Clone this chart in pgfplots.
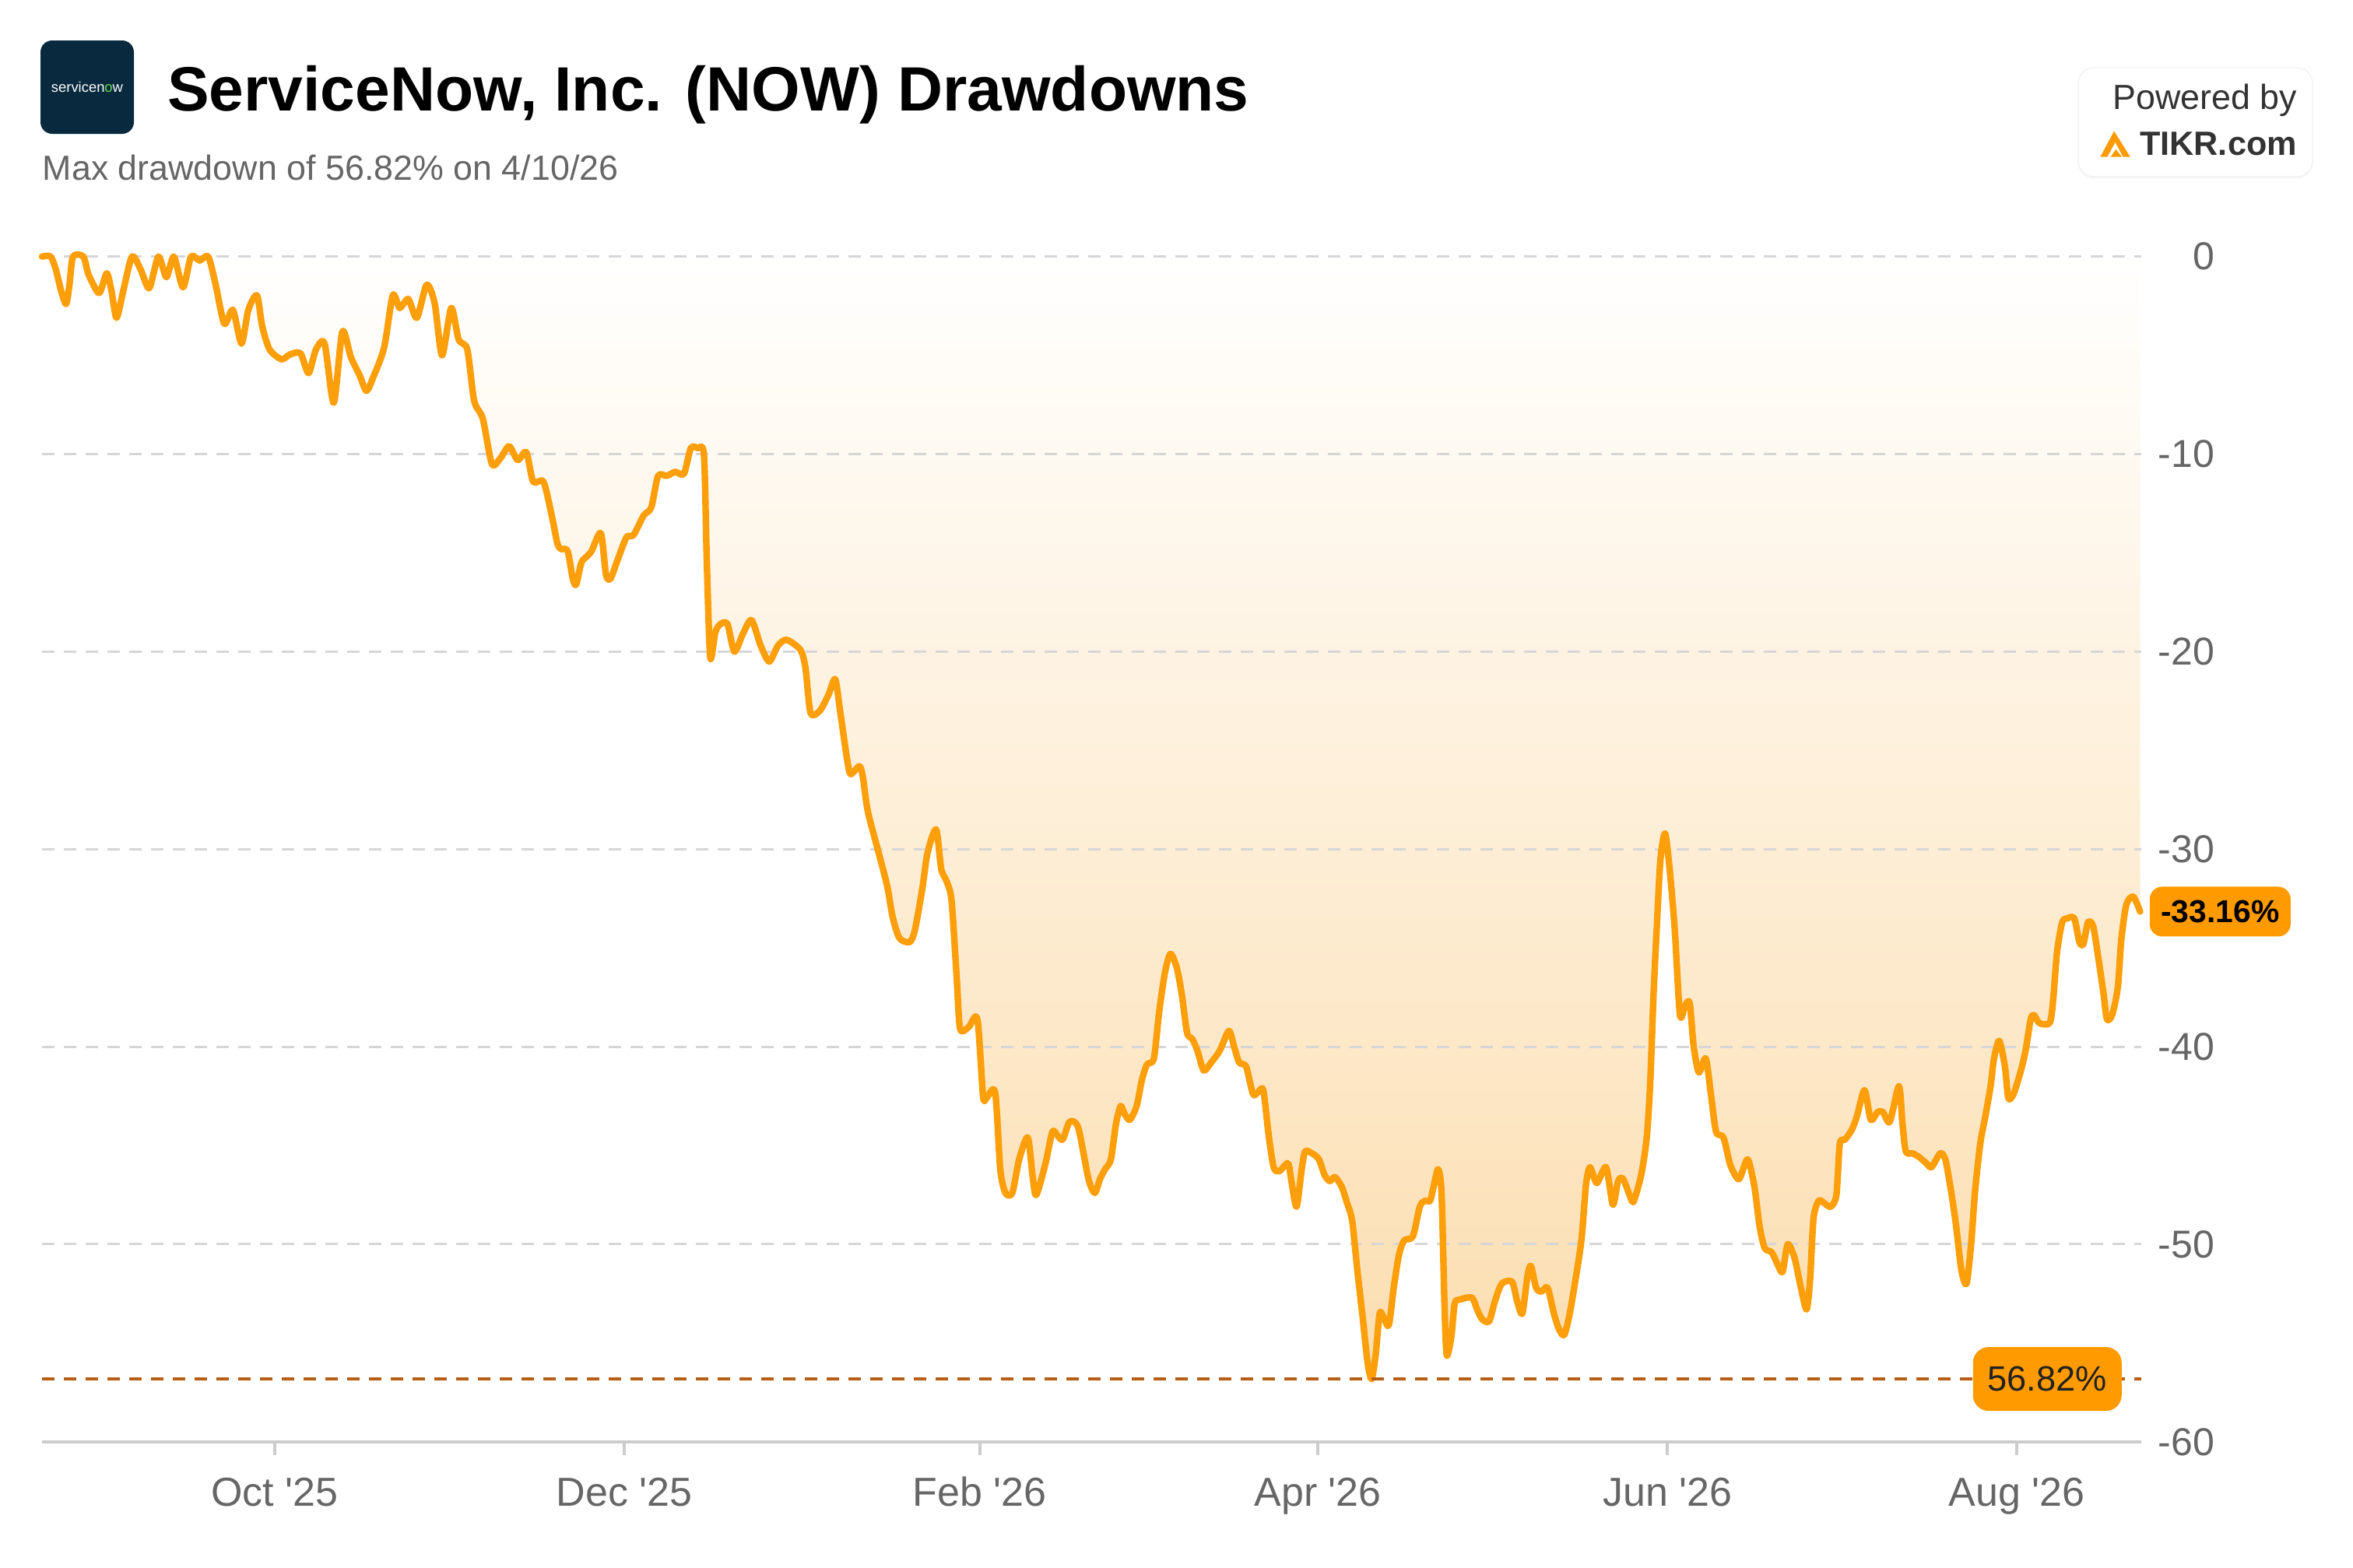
\documentclass[border=0pt]{standalone}
\usepackage{pgfplots}
\pgfplotsset{compat=1.18}
\usepackage{pgfplotstable}
\usepackage{fontspec}
\setmainfont{Liberation Sans}
\usetikzlibrary{shadows}
\definecolor{lineorange}{RGB}{253,158,11}
\definecolor{boxorange}{RGB}{255,155,0}
\definecolor{fillorange}{RGB}{252,222,176}
\definecolor{gridgray}{RGB}{214,214,214}
\definecolor{axisgray}{RGB}{204,204,204}
\definecolor{labelgray}{RGB}{102,102,102}
\definecolor{maxbrown}{RGB}{184,94,20}
\definecolor{navy}{RGB}{9,42,62}
\definecolor{snowgreen}{RGB}{98,216,78}
\definecolor{darktext}{RGB}{34,34,34}
\definecolor{tikrtext}{RGB}{51,51,51}

% x: days since 1 Oct 2025, y: drawdown in %
\pgfplotstableread{
x y
-40.6 0
-39.1 0
-38.2 -0.65
-37.3 -1.7
-36.4 -2.4
-35.8 -1.4
-35.2 0
-33.4 0
-32.5 -0.9
-31.0 -1.76
-30.4 -1.76
-29.3 -0.85
-28.5 -1.7
-27.6 -3.1
-26.4 -1.7
-24.9 0
-23.4 -0.65
-21.9 -1.6
-20.3 0
-18.9 -1.04
-17.6 0
-16.0 -1.56
-14.6 0
-13.1 -0.2
-11.6 0
-10.3 -1.43
-8.8 -3.4
-7.3 -2.7
-5.8 -4.4
-4.6 -2.7
-3.1 -1.96
-2.2 -3.5
-0.9 -4.7
1.2 -5.2
2.7 -4.95
4.5 -4.9
5.9 -5.9
7.2 -4.7
8.7 -4.4
10.3 -7.4
11.8 -3.8
13.3 -5.1
14.8 -6.0
16.0 -6.8
17.2 -6.1
19.1 -4.6
20.6 -1.96
21.8 -2.6
23.3 -2.15
24.8 -3.1
26.5 -1.43
27.9 -2.35
29.2 -5.0
30.8 -2.6
32.1 -4.2
33.6 -4.7
34.8 -7.3
36.3 -8.2
37.9 -10.5
39.4 -10.2
40.9 -9.6
42.4 -10.3
43.9 -9.9
45.1 -11.4
46.9 -11.4
48.4 -13.2
49.3 -14.5
49.9 -14.8
51.1 -14.9
52.0 -16.3
52.6 -16.6
53.5 -15.5
54.4 -15.2
55.3 -14.9
56.9 -14.0
57.8 -16.1
58.6 -16.3
59.9 -15.3
61.4 -14.2
62.6 -14.1
64.4 -13.1
65.7 -12.7
66.9 -11.1
68.4 -11.1
69.9 -10.9
71.4 -11.0
72.6 -9.7
73.8 -9.7
74.9 -10.05
75.4 -15.5
76.0 -20.3
76.9 -19.0
77.8 -18.6
79.0 -18.6
80.2 -20.0
81.7 -19.1
83.2 -18.4
84.8 -19.7
86.3 -20.5
87.8 -19.7
89.3 -19.4
91.7 -19.9
92.6 -20.8
93.5 -23.1
95.1 -23.0
96.6 -22.2
97.8 -21.4
98.7 -23.1
99.9 -25.5
100.5 -26.2
102.0 -25.8
102.6 -26.3
103.5 -28.1
105.4 -30.2
106.9 -31.9
107.8 -33.4
109.0 -34.5
110.8 -34.7
111.7 -34.1
113.0 -32.0
113.9 -30.2
115.4 -29.0
116.3 -31.0
117.2 -31.6
118.1 -32.6
119.0 -36.5
119.6 -39.1
121.1 -39.0
122.6 -38.6
123.6 -42.5
124.2 -42.6
125.7 -42.3
126.6 -46.2
127.5 -47.4
128.7 -47.4
129.9 -45.7
131.4 -44.6
132.3 -46.7
132.9 -47.5
134.5 -45.9
135.7 -44.3
136.6 -44.5
137.5 -44.7
138.7 -43.8
140.2 -44.1
142.0 -46.7
143.1 -47.4
144.0 -46.7
144.9 -46.2
145.9 -45.7
146.8 -43.9
147.6 -43.0
148.3 -43.4
149.2 -43.7
150.4 -43.0
151.3 -41.7
152.2 -40.9
153.4 -40.6
154.3 -38.3
155.3 -36.3
156.3 -35.3
157.4 -36.0
158.3 -37.4
159.2 -39.3
160.1 -39.6
161.0 -40.2
162.1 -41.2
163.4 -40.8
164.9 -40.2
166.5 -39.2
167.4 -40.0
168.3 -40.8
169.5 -41.0
170.7 -42.4
171.6 -42.3
172.5 -42.2
173.4 -44.4
174.3 -46.1
175.3 -46.3
176.8 -45.9
177.4 -46.8
178.3 -48.1
179.2 -46.2
179.8 -45.3
181.0 -45.4
182.2 -45.7
183.2 -46.5
184.1 -46.8
185.0 -46.6
186.2 -47.1
187.1 -47.9
188.0 -48.8
188.9 -51.3
189.8 -53.6
190.7 -56.0
191.4 -56.82
192.1 -55.6
192.8 -53.5
193.5 -53.7
194.4 -54.1
195.3 -52.1
196.2 -50.5
197.1 -49.8
198.6 -49.6
199.8 -48.1
200.7 -47.8
201.6 -47.8
202.2 -47.1
203.0 -46.2
203.6 -47.4
204.1 -52.9
204.5 -55.6
205.3 -54.7
205.9 -53.0
206.8 -52.8
208.9 -52.7
209.8 -53.3
210.7 -53.8
211.9 -53.9
212.9 -52.9
214.1 -52.0
215.9 -51.9
216.8 -52.9
217.7 -53.5
218.6 -51.6
219.2 -51.1
220.1 -52.2
221.0 -52.4
222.1 -52.2
223.2 -53.5
224.1 -54.3
225.0 -54.6
225.9 -53.6
226.8 -52.1
228.0 -49.8
228.8 -47.0
229.5 -46.1
230.7 -46.9
232.3 -46.1
233.5 -48.0
234.4 -46.8
235.3 -46.7
236.8 -47.8
237.3 -47.7
238.5 -46.4
239.4 -44.6
240.0 -41.9
240.6 -37.3
241.2 -33.7
241.8 -30.5
242.6 -29.2
243.4 -31.0
244.3 -34.1
245.2 -38.4
246.1 -37.9
246.9 -37.8
247.6 -40.0
248.5 -41.3
249.7 -40.6
250.6 -42.4
251.5 -44.3
252.8 -44.6
254.0 -46.0
255.5 -46.7
257.0 -45.7
258.2 -47.1
259.1 -49.1
260.0 -50.2
261.2 -50.4
262.2 -51.0
263.1 -51.4
264.0 -50.0
265.2 -50.7
266.3 -52.2
267.3 -53.3
267.9 -51.8
268.5 -48.7
269.4 -47.8
270.3 -47.9
271.5 -48.1
272.5 -47.5
273.1 -44.9
274.0 -44.7
275.2 -44.2
276.1 -43.5
277.4 -42.2
278.5 -43.7
279.7 -43.3
280.6 -43.3
281.8 -43.8
283.4 -42.0
284.0 -43.8
284.6 -45.3
285.8 -45.4
287.0 -45.6
288.2 -45.9
289.1 -46.1
290.6 -45.4
291.5 -45.7
292.5 -47.3
293.4 -49.1
294.3 -51.3
295.2 -52.0
296.0 -50.0
296.7 -47.3
297.6 -44.9
298.5 -43.5
299.4 -42.0
300.0 -40.6
300.9 -39.7
301.9 -41.0
302.5 -42.6
303.4 -42.4
304.6 -41.3
305.5 -40.2
306.4 -38.6
307.0 -38.4
307.9 -38.8
309.7 -38.8
310.3 -37.7
311.0 -35.2
311.9 -33.7
312.8 -33.5
314.0 -33.5
314.9 -34.7
315.6 -34.8
316.4 -33.7
317.3 -33.9
318.2 -35.5
319.1 -37.3
319.7 -38.6
320.6 -38.4
321.6 -37.0
322.2 -34.6
323.1 -32.8
324.3 -32.4
325.5 -33.16
}\dd

\begin{document}
\begin{tikzpicture}
\path (0,0) rectangle (755.75pt,-503.75pt);

% logo
\fill[navy, rounded corners=3.75pt] (13pt,-13pt) rectangle (43pt,-43pt);
\node[inner sep=0pt, font=\fontsize{4.6}{5}\selectfont, text=white] at (28pt,-28pt) {servicen\textcolor{snowgreen}{o}w};

% title and subtitle
\node[anchor=base west, inner sep=0pt, font=\bfseries\fontsize{20.1}{24}\selectfont] at (53.6pt,-35.6pt) {ServiceNow, Inc. (NOW) Drawdowns};
\node[anchor=base west, inner sep=0pt, font=\fontsize{11.2}{13}\selectfont, text=labelgray] at (13.5pt,-57.8pt) {Max drawdown of 56.82\% on 4/10/26};

% powered by box
\fill[white, rounded corners=5pt, drop shadow={shadow xshift=0pt, shadow yshift=-0.6pt, opacity=0.07}] (667.5pt,-21.75pt) rectangle (742.75pt,-56.75pt);
\draw[gray!12, line width=0.3pt, rounded corners=5pt] (667.5pt,-21.75pt) rectangle (742.75pt,-56.75pt);
\node[anchor=base east, inner sep=0pt, font=\fontsize{11.2}{13}\selectfont, text=tikrtext] at (737.9pt,-35pt) {Powered by};
\node[anchor=base east, inner sep=0pt, font=\bfseries\fontsize{10.8}{13}\selectfont, text=tikrtext] at (737.9pt,-49.8pt) {TIKR.com};
\fill[boxorange] (674.6pt,-50.4pt) -- (679.0pt,-42.1pt) -- (684.2pt,-50.4pt) -- cycle;
\fill[white] (676.8pt,-50.5pt) -- (679.4pt,-45.8pt) -- (681.9pt,-50.5pt) -- cycle;
\fill[boxorange] (677.9pt,-50.4pt) -- (679.6pt,-48.0pt) -- (681.5pt,-50.4pt) -- cycle;

\begin{axis}[
  at={(13.5pt,-463.2pt)}, anchor=south west,
  scale only axis, width=674.25pt, height=380.775pt,
  xmin=-40.6, xmax=325.7, ymin=-60, ymax=0,
  clip=false,
  set layers,
  axis line style={draw=none},
  xtick={0,61,123,182,243,304},
  xticklabels={Oct \textquotesingle25,Dec \textquotesingle25,Feb \textquotesingle26,Apr \textquotesingle26,Jun \textquotesingle26,Aug \textquotesingle26},
  xtick pos=bottom,
  ytick={0,-10,-20,-30,-40,-50,-60},
  yticklabels={0,-10,-20,-30,-40,-50,-60},
  yticklabel pos=right,
  ytick style={draw=none},
  xtick style={draw=axisgray, line width=1pt},
  tick align=outside,
  major tick length=4.25pt,
  xticklabel style={font=\fontsize{13}{15}\selectfont, text=labelgray, anchor=base, inner sep=0pt, yshift=-16.5pt},
  yticklabel style={font=\fontsize{12.5}{14}\selectfont, text=labelgray, anchor=east, inner sep=0pt, xshift=19.5pt},
  ymajorgrids,
  major grid style={gridgray, dash pattern=on 4.1pt off 2.9pt, line width=0.75pt},
]
\addplot[on layer=axis background, draw=none, top color=white, bottom color=fillorange, smooth, tension=0.45] table[x=x,y=y] {\dd} \closedcycle;
\draw[axisgray, line width=1pt] (rel axis cs:0,0) -- (rel axis cs:1,0);
\addplot[lineorange, line width=2.1pt, smooth, tension=0.45, line join=round, line cap=round] table[x=x,y=y] {\dd};
\draw[maxbrown, dash pattern=on 3.9pt off 3.1pt, line width=0.8pt] (axis cs:-40.6,-56.82) -- (axis cs:325.7,-56.82);
\node[fill=boxorange, rounded corners=5pt, minimum width=47.75pt, minimum height=20.5pt, inner sep=0pt, font=\fontsize{11.3}{13}\selectfont, text=darktext] at (axis cs:309.3,-56.82) {56.82\%};
\node[fill=boxorange, rounded corners=4pt, minimum width=45.25pt, minimum height=16pt, inner sep=0pt, anchor=west, font=\bfseries\fontsize{10.2}{12}\selectfont, text=black] at (axis cs:325.7,-33.16) [xshift=2.5pt] {-33.16\%};
\end{axis}
\end{tikzpicture}
\end{document}
